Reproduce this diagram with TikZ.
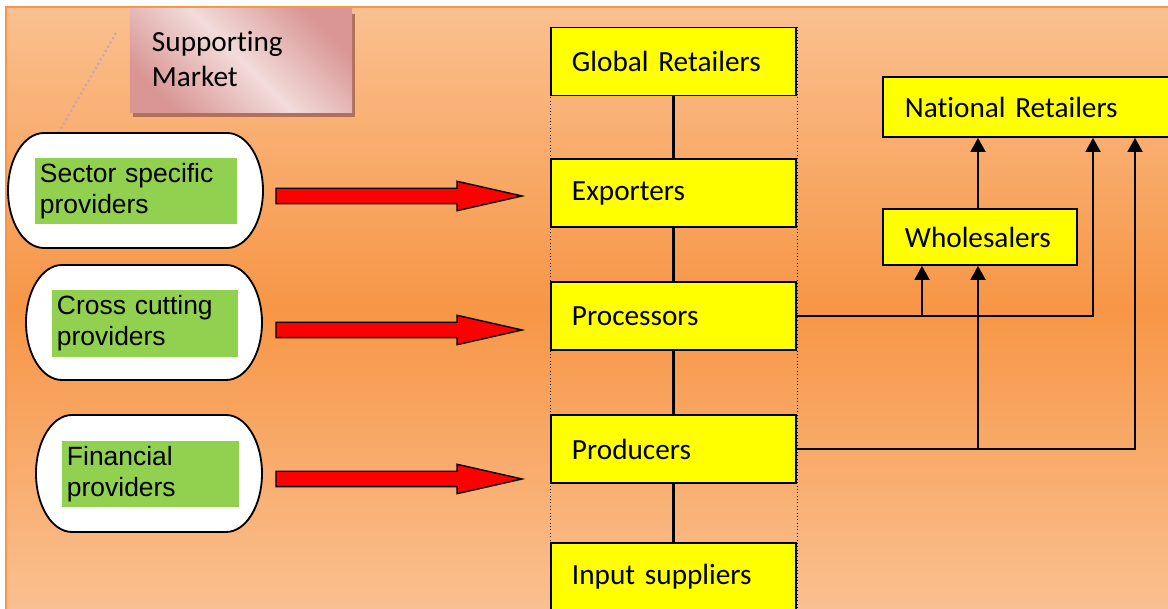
\documentclass[tikz,border=0pt]{standalone}
\usepackage{fontspec}
\setmainfont{Carlito}[Ligatures=NoCommon]
\newfontfamily\arialfont{Liberation Sans}
\usetikzlibrary{arrows.meta, shapes.arrows, shadows}
\definecolor{panelorange}{HTML}{F79646}
\definecolor{panellight}{HTML}{FAC090}
\definecolor{boxyellow}{HTML}{FFFF00}
\definecolor{provgreen}{HTML}{92D050}
\definecolor{pinkdark}{HTML}{D99694}
\definecolor{pinklight}{HTML}{F2DCDB}
\definecolor{shadowbrown}{HTML}{B0705A}
\definecolor{leaderpink}{HTML}{C9A3B8}

\begin{document}
\begin{tikzpicture}[x=0.025cm, y=0.025cm,
    stagebox/.style={rectangle, draw, line width=1.3pt, fill=boxyellow, minimum width=6.125cm, minimum height=1.7cm, inner xsep=0.525cm, text width=5.075cm, align=left, font=\fontsize{20.8}{25}\selectfont},
    providerbox/.style={rectangle, fill=provgreen, inner xsep=0.125cm, minimum height=1.67cm, align=left, font=\arialfont\fontsize{18.8}{22}\selectfont},
    ovalline/.style={draw, fill=white, line width=1.3pt},
    redarrow/.style={single arrow, draw, line width=1pt, fill=red, inner xsep=0pt, inner ysep=0.175cm, minimum height=6.15cm, single arrow head extend=0.175cm, single arrow tip angle=25.5},
    stageline/.style={line width=2.5pt},
    flowarrow/.style={-{Triangle[width=0.375cm, length=0.35cm]}, line width=1.3pt}]
    \useasboundingbox (0,0) rectangle (1168,609);

    % Background panel
    \shade[top color=panellight, bottom color=panellight, middle color=panelorange] (6,0) rectangle (1168,602);
    \draw[panelorange, line width=1.5pt] (6,0) -- (6,602) -- (1168,602);

    % Supporting market label
    \node[rectangle, left color=pinkdark, right color=pinkdark, middle color=pinklight, shading angle=-45,
          drop shadow={fill=shadowbrown, opacity=1, shadow xshift=0.075cm, shadow yshift=-0.125cm},
          minimum width=5.55cm, minimum height=2.575cm, inner xsep=0.55cm, text width=4.45cm, align=left,
          font=\fontsize{20.8}{24.9}\selectfont] (market) at (241,548.5) {\raisebox{0.08cm}{Supporting}\\\raisebox{0.08cm}{Market}};
    \coordinate (leadertop) at (116,576);
    \coordinate (leaderfoot) at (59,477);
    \draw[leaderpink, dotted, line width=1.5pt] (leadertop) -- (leaderfoot);

    % Providers
    \draw[ovalline] (44,476) -- (227,476) arc[start angle=90, end angle=-90, x radius=36, y radius=57.5] -- (44,361) arc[start angle=270, end angle=90, x radius=36, y radius=57.5] -- cycle;
    \draw[ovalline] (62,344) -- (226,344) arc[start angle=90, end angle=-90, x radius=36, y radius=57.5] -- (62,229) arc[start angle=270, end angle=90, x radius=36, y radius=57.5] -- cycle;
    \draw[ovalline] (72,194) -- (226,194) arc[start angle=90, end angle=-90, x radius=36, y radius=58.5] -- (72,77) arc[start angle=270, end angle=90, x radius=36, y radius=58.5] -- cycle;
    \node[providerbox, text width=4.8cm] (sector) at (136,418) {Sector specific\\providers};
    \node[providerbox, text width=4.4cm] (cross) at (145,285.5) {Cross cutting\\providers};
    \node[providerbox, text width=4.175cm] (financial) at (150.5,135) {Financial\\providers};

    % Support arrows
    \node[redarrow] (sectorpush) at (382,413) {};
    \node[redarrow] (crosspush) at (382,279) {};
    \node[redarrow] (financialpush) at (382,130) {};

    % Chain stages
    \node[stagebox] (global) at (673.5,547.5) {Global Retailers};
    \node[stagebox] (exporters) at (673.5,416) {Exporters};
    \node[stagebox] (processors) at (673.5,293) {Processors};
    \node[stagebox] (producers) at (673.5,160) {Producers};
    \node[stagebox] (inputs) at (673.5,32) {Input suppliers};
    \draw[dotted, thin] (global.north west) -- (global.north west |- 0,0);
    \draw[dotted, thin] (global.north east) -- (global.north east |- 0,0);

    % Links between stages
    \draw[stageline] (global.south) -- (exporters.north);
    \draw[stageline] (exporters.south) -- (processors.north);
    \draw[stageline] (processors.south) -- (producers.north);
    \draw[stageline] (producers.south) -- (inputs.north);

    % National market
    \node[stagebox, minimum width=7.5cm, text width=6.4cm, inner xsep=0.55cm, minimum height=1.5cm] (national) at (1033,502) {National Retailers};
    \node[stagebox, minimum width=4.85cm, text width=3.75cm, inner xsep=0.55cm, minimum height=1.4cm] (wholesale) at (980,372) {Wholesalers};
    \coordinate (procsplit) at (922,0);
    \coordinate (prodsplit) at (978,0);
    \coordinate (procrise) at (1093,0);
    \coordinate (prodrise) at (1135,0);
    \draw[flowarrow] (wholesale.north -| prodsplit) -- (national.south -| prodsplit);
    \draw[flowarrow] (processors.east) -| (national.south -| procrise);
    \draw[flowarrow] (processors.east -| procsplit) -- (wholesale.south -| procsplit);
    \draw[flowarrow] (producers.east) -| (national.south -| prodrise);
    \draw[flowarrow] (producers.east -| prodsplit) -- (wholesale.south -| prodsplit);

\end{tikzpicture}
\end{document}
